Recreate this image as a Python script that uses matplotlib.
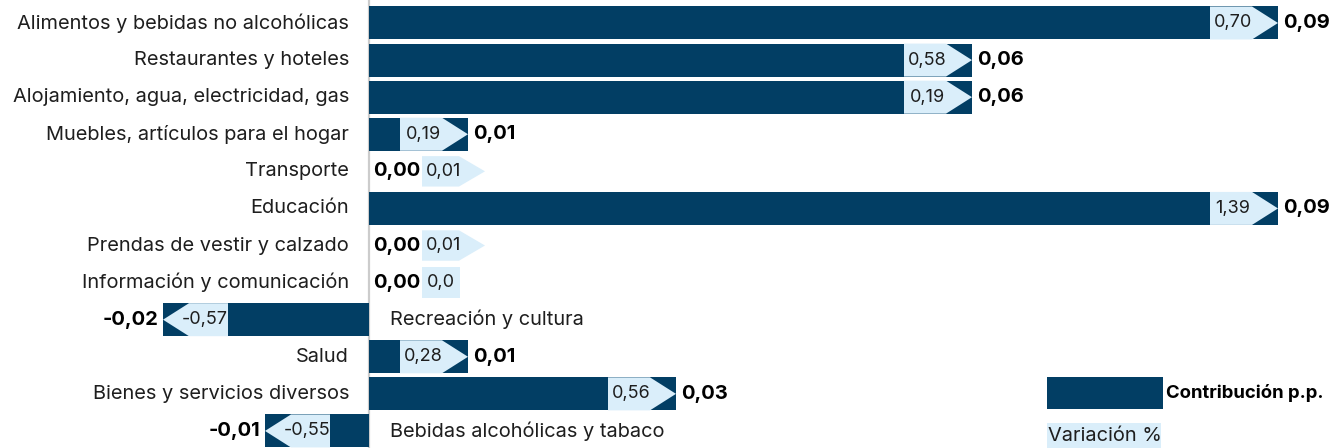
import matplotlib
matplotlib.use("Agg")
import matplotlib.pyplot as plt
from matplotlib.patches import Polygon, Rectangle

plt.rcParams['font.family'] = ['Inter', 'DejaVu Sans']

# datos
categorias = ["Alimentos y bebidas no alcohólicas", "Restaurantes y hoteles",
              "Alojamiento, agua, electricidad, gas", "Muebles, artículos para el hogar",
              "Transporte", "Educación", "Prendas de vestir y calzado",
              "Información y comunicación", "Recreación y cultura", "Salud",
              "Bienes y servicios diversos", "Bebidas alcohólicas y tabaco"]
contribucion = [0.0909, 0.0603, 0.0603, 0.0099, 0.0, 0.0909, 0.0, 0.0,
                -0.0206, 0.0099, 0.0307, -0.0104]
variacion = [0.70, 0.58, 0.19, 0.19, 0.01, 1.39, 0.01, 0.0, -0.57, 0.28, 0.56, -0.55]

oscuro = '#023e64'
claro = '#daeefa'
gris_txt = '#1e1e1e'

W, H = 1332, 448
fig = plt.figure(figsize=(W / 100, H / 100), dpi=100)
ax = fig.add_axes([0, 0, 1, 1])
ax.set_xlim(-0.0369, 0.0963)
ax.set_ylim(11.46, -0.62)
ax.axis('off')
px = (0.0963 + 0.0369) / W  # un pixel en unidades de datos

alto = 0.89
fs_cat, fs_var, fs_val = 14.4, 13, 14.5
ax.axvline(0, color='#cccccc', lw=1.6, zorder=1)
ax.barh(range(len(categorias)), contribucion, height=alto, color=oscuro, zorder=2)


def fmt(v, dec=2):
    return f"{v:.{dec}f}".replace(".", ",")


def flecha(x_punta, x_base, x_fin, y, h):
    # pentagono en forma de flecha (etiqueta de variacion)
    pts = [(x_fin, y - h / 2), (x_base, y - h / 2), (x_punta, y),
           (x_base, y + h / 2), (x_fin, y + h / 2)]
    ax.add_patch(Polygon(pts, closed=True, facecolor=claro, edgecolor='none', zorder=3))


for i, (cat, c, v) in enumerate(zip(categorias, contribucion, variacion)):
    txt_var = fmt(v) if v != 0 else "0,0"
    if c > 0:
        flecha(c, c - 26 * px, c - 68 * px, i, alto)
        ax.text(c - 45 * px, i, txt_var, ha='center', va='center', fontsize=fs_var, color=gris_txt, zorder=4)
        ax.text(c + 5 * px, i, fmt(c), ha='left', va='center', fontsize=fs_val, fontweight='bold', zorder=4)
        ax.text(-20 * px, i, cat, ha='right', va='center', fontsize=fs_cat, color=gris_txt)
    elif c < 0:
        flecha(c, c + 26 * px, c + 65 * px, i, alto)
        ax.text(c + 42 * px, i, txt_var, ha='center', va='center', fontsize=fs_var, color=gris_txt, zorder=4)
        ax.text(c - 5 * px, i, fmt(c), ha='right', va='center', fontsize=fs_val, fontweight='bold', zorder=4)
        ax.text(21 * px, i, cat, ha='left', va='center', fontsize=fs_cat, color=gris_txt)
    else:
        ax.text(4 * px, i, fmt(c), ha='left', va='center', fontsize=fs_val, fontweight='bold', zorder=4)
        if v != 0:
            flecha(116 * px, 90 * px, 53 * px, i, 0.82)
            ax.text(75 * px, i, txt_var, ha='center', va='center', fontsize=fs_var, color=gris_txt, zorder=4)
        else:
            ax.add_patch(Rectangle((53 * px, i - 0.41), 38 * px, 0.82, facecolor=claro,
                                   edgecolor='none', zorder=3))
            ax.text(72 * px, i, txt_var, ha='center', va='center', fontsize=fs_var, color=gris_txt, zorder=4)
        ax.text(-20 * px, i, cat, ha='right', va='center', fontsize=fs_cat, color=gris_txt)

# leyenda
fig.add_artist(Rectangle((1047 / W, 1 - 409 / H), 116 / W, 32 / H, facecolor=oscuro,
                         edgecolor='none', transform=fig.transFigure))
fig.text(1166 / W, 1 - 393 / H, "Contribución p.p.", ha='left', va='center',
         fontsize=13.3, fontweight='bold')
fig.add_artist(Rectangle((1047 / W, 0), 114 / W, 25 / H, facecolor=claro,
                         edgecolor='none', transform=fig.transFigure))
fig.text(1048 / W, 1 - 436 / H, "Variación %", ha='left', va='center',
         fontsize=fs_cat, color=gris_txt)

fig.savefig("out.png", dpi=100)
